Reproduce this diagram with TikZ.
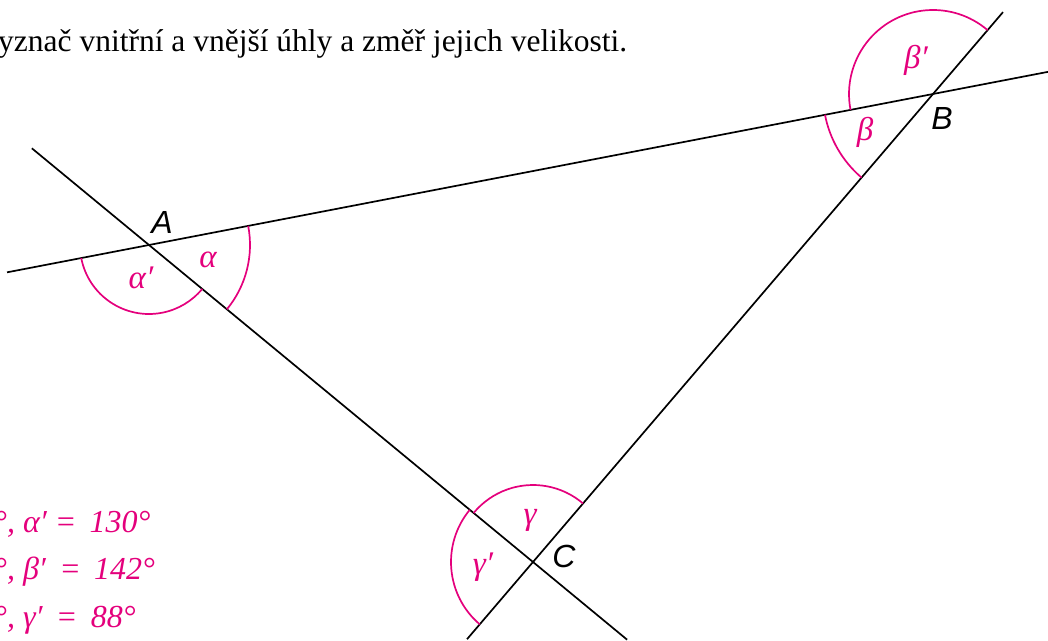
\documentclass[tikz,border=0pt]{standalone}
\usepackage{fontspec}
\setmainfont{Liberation Serif}
\newfontfamily\helv{Liberation Sans}
\usetikzlibrary{calc,angles}
\definecolor{pinkm}{RGB}{228,0,124}
\tikzset{
  lineblk/.style={black, line width=1.7pt},
  arcpink/.style={draw=pinkm, line width=1.7pt, angle radius=#1},
  vlabel/.style={font=\helv\itshape\fontsize{32}{34}\selectfont, inner sep=0pt},
  glabel/.style={text=pinkm, font=\itshape\fontsize{33}{35}\selectfont, inner sep=0pt},
  result/.style={text=pinkm, font=\itshape\fontsize{32}{34}\selectfont, inner sep=0pt, anchor=base west},
}
\begin{document}
\begin{tikzpicture}[x=1pt,y=1pt]
\useasboundingbox (0,0) rectangle (1048,640);
% vertices
\coordinate (A) at (149,395);
\coordinate (B) at (933,546);
\coordinate (C) at (533,78);
% line ends
\coordinate (A1) at ($(A)!-0.181!(B)$);
\coordinate (B3) at ($(A)!1.147!(B)$);
\coordinate (A0) at ($(A)!-0.305!(C)$);
\coordinate (C2) at ($(A)!1.245!(C)$);
\coordinate (B2) at ($(C)!1.175!(B)$);
\coordinate (C1) at ($(C)!-0.165!(B)$);
% lines
\draw[lineblk] (A1) -- (B3);
\draw[lineblk] (A0) -- (C2);
\draw[lineblk] (C1) -- (B2);
% angle arcs
\pic[arcpink=101pt] {angle = C--A--B};
\pic[arcpink=69pt] {angle = A1--A--C};
\pic[arcpink=110pt] {angle = A--B--C};
\pic[arcpink=84pt] {angle = B2--B--A};
\pic[arcpink=77pt] {angle = B--C--A};
\pic[arcpink=82pt] {angle = A--C--C1};
% vertex labels
\node[vlabel] (lA) at (162,418) {A};
\node[vlabel] (lB) at (942,522) {B};
\node[vlabel] (lC) at (564,84) {C};
% angle labels
\node[glabel] (la) at (208,380) {α};
\node[glabel] (la2) at (141,362) {α′};
\node[glabel] (lb) at (865,508) {β};
\node[glabel] (lb2) at (916,580) {β′};
\node[glabel] (lg) at (530,120) {γ};
\node[glabel] (lg2) at (483,73) {γ′};
% title
\node[anchor=base west, inner sep=0pt, font=\fontsize{31.5}{33}\selectfont] (title) at (-2,588) {yznač vnitřní a vnější úhly a změř jejich velikosti.};
% results
\node[result] (r1) at (-6,108) {°, α′ =\, 130°};
\node[result] (r2) at (-6,61) {°, β′ \,=\, 142°};
\node[result] (r3) at (-6,13) {°, γ′ \,=\, 88°};
\end{tikzpicture}
\end{document}
